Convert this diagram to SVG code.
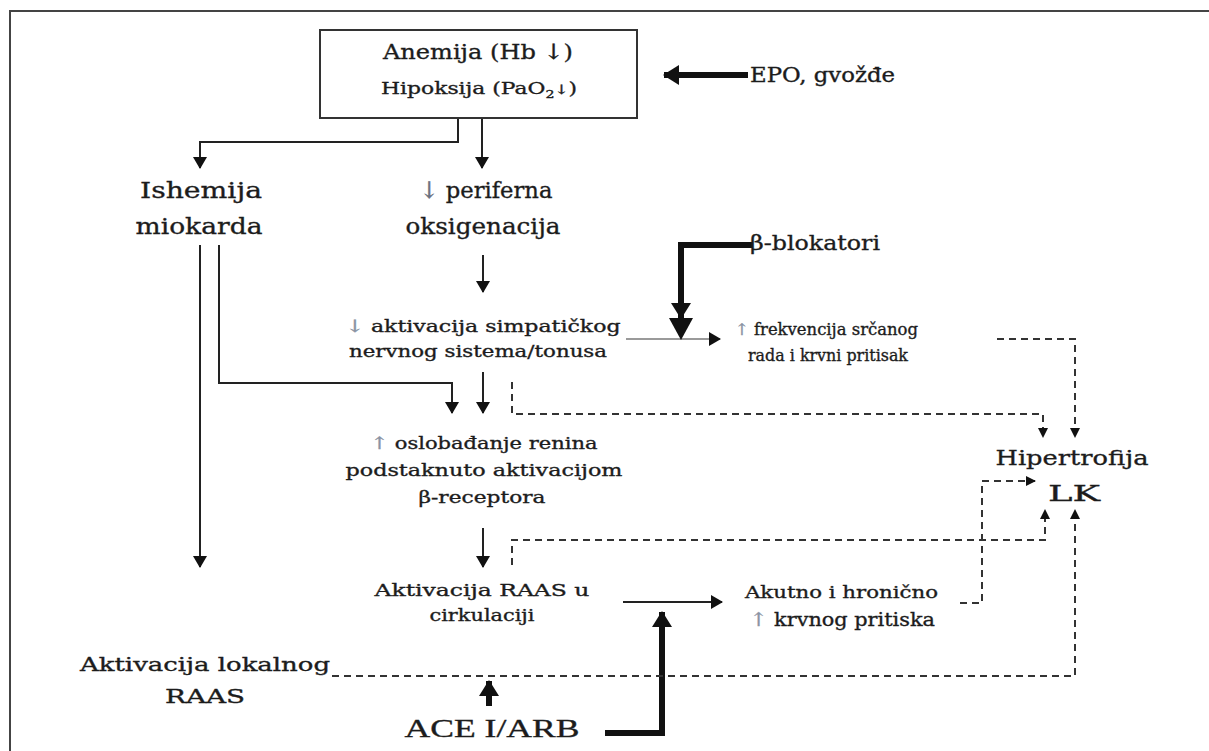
<svg xmlns="http://www.w3.org/2000/svg" width="1209" height="751" viewBox="0 0 1209 751">
  <style>
    text { font-family: "DejaVu Serif", "Liberation Serif", serif; fill: #1c1c1c; stroke: #1c1c1c; stroke-width: 0.35; }
    .c { text-anchor: middle; }
    .s { text-anchor: start; }
    .arw { fill: #8a93a3; stroke: #8a93a3; }
    .ln { fill: none; stroke: #222; stroke-width: 2; }
    .thick { fill: none; stroke: #111; stroke-width: 6; }
    .dash { fill: none; stroke: #333; stroke-width: 2; stroke-dasharray: 7 5; }
    .gray { fill: none; stroke: #9a9a9a; stroke-width: 2; }
  </style>
  <defs>
    <marker id="head" viewBox="0 0 12 14" refX="11" refY="7" markerWidth="12" markerHeight="14" markerUnits="userSpaceOnUse" orient="auto">
      <path d="M0,0 L12,7 L0,14 Z" fill="#111"/>
    </marker>
    <marker id="headS" viewBox="0 0 10 10" refX="9" refY="5" markerWidth="10" markerHeight="10" markerUnits="userSpaceOnUse" orient="auto">
      <path d="M0,0 L10,5 L0,10 Z" fill="#111"/>
    </marker>
    <marker id="headB" viewBox="0 0 16 20" refX="15" refY="10" markerWidth="16" markerHeight="20" markerUnits="userSpaceOnUse" orient="auto">
      <path d="M0,0 L16,10 L0,20 Z" fill="#111"/>
    </marker>
  </defs>

  <rect width="1209" height="751" fill="#ffffff"/>
  <!-- frame -->
  <path d="M10,751 L10,11 L1209,11" fill="none" stroke="#444" stroke-width="2"/>

  <g id="connectors">
    <path class="thick" d="M748,75 L664,75" marker-end="url(#headB)"/>
    <path class="ln" d="M458,118 L458,142 L200,142 L200,168" marker-end="url(#head)"/>
    <path class="ln" d="M482,118 L482,168" marker-end="url(#head)"/>
    <path class="ln" d="M483,255 L483,292" marker-end="url(#head)"/>
    <path class="ln" d="M200,245 L200,567" marker-end="url(#head)"/>
    <path class="ln" d="M219,245 L219,383 L452,383 L452,413" marker-end="url(#head)"/>
    <path class="ln" d="M483,372 L483,413" marker-end="url(#head)"/>
    <path class="gray" d="M626,339 L720,339" marker-end="url(#head)"/>
    <path class="thick" d="M752,245 L681,245 L681,318" marker-end="url(#headB)"/>
    <path d="M669,318 L693,318 L681,340 Z" fill="#111"/>
    <path class="dash" d="M997,339 L1075,339 L1075,437" marker-end="url(#headS)"/>
    <path class="dash" d="M512,382 L512,414 L1043,414 L1043,437" marker-end="url(#headS)"/>
    <path class="ln" d="M483,528 L483,567" marker-end="url(#head)"/>
    <path class="dash" d="M512,565 L512,540 L1045,540 L1045,510" marker-end="url(#headS)"/>
    <path class="ln" d="M623,602 L722,602" marker-end="url(#head)"/>
    <path class="thick" d="M605,733 L662,733 L662,612" marker-end="url(#headB)"/>
    <path class="dash" d="M960,603 L982,603 L982,481 L1035,481" marker-end="url(#headS)"/>
    <path class="dash" d="M332,676 L1075,676 L1075,510" marker-end="url(#headS)"/>
    <path class="thick" d="M489,706 L489,681" marker-end="url(#headB)"/>
  </g>

  <g id="anemija">
    <rect x="320" y="30" width="317" height="88" fill="#fff" stroke="#333" stroke-width="2"/>
    <text class="c" x="478" y="59" font-size="21" textLength="190" lengthAdjust="spacingAndGlyphs">Anemija (Hb ↓)</text>
    <text class="c" x="479" y="94" font-size="17" textLength="196" lengthAdjust="spacingAndGlyphs">Hipoksija (PaO<tspan font-size="11" dy="4">2</tspan><tspan font-size="13" dy="-4">↓</tspan>)</text>
  </g>

  <g id="epo">
    <text class="s" x="750" y="82" font-size="20" textLength="145" lengthAdjust="spacingAndGlyphs">EPO, gvožđe</text>
  </g>

  <g id="ishemija">
    <text class="c" x="201" y="198" font-size="23" textLength="122" lengthAdjust="spacingAndGlyphs">Ishemija</text>
    <text class="c" x="199" y="234" font-size="23" textLength="127" lengthAdjust="spacingAndGlyphs">miokarda</text>
  </g>

  <g id="periferna">
    <text class="c" x="486" y="198" font-size="23" textLength="133" lengthAdjust="spacingAndGlyphs"><tspan fill="#6a7080" stroke="#6a7080">↓</tspan> periferna</text>
    <text class="c" x="483" y="234" font-size="23" textLength="155" lengthAdjust="spacingAndGlyphs">oksigenacija</text>
  </g>

  <g id="beta-blokatori">
    <text class="s" x="750" y="250" font-size="20" textLength="130" lengthAdjust="spacingAndGlyphs">β-blokatori</text>
  </g>

  <g id="simpaticki">
    <text class="c" x="483" y="332" font-size="17" textLength="275" lengthAdjust="spacingAndGlyphs"><tspan class="arw">↓</tspan> aktivacija simpatičkog</text>
    <text class="c" x="478" y="357" font-size="17" textLength="258" lengthAdjust="spacingAndGlyphs">nervnog sistema/tonusa</text>
  </g>

  <g id="frekvencija">
    <text class="s" x="735" y="335" font-size="16" textLength="183" lengthAdjust="spacingAndGlyphs"><tspan class="arw">↑</tspan> frekvencija srčanog</text>
    <text class="s" x="748" y="361" font-size="16" textLength="160" lengthAdjust="spacingAndGlyphs">rada i krvni pritisak</text>
  </g>

  <g id="renin">
    <text class="c" x="484" y="449" font-size="17" textLength="227" lengthAdjust="spacingAndGlyphs"><tspan class="arw">↑</tspan> oslobađanje renina</text>
    <text class="c" x="484" y="476" font-size="17" textLength="277" lengthAdjust="spacingAndGlyphs">podstaknuto aktivacijom</text>
    <text class="c" x="482" y="503" font-size="17" textLength="127" lengthAdjust="spacingAndGlyphs">β-receptora</text>
  </g>

  <g id="hipertrofija">
    <text class="c" x="1072" y="465" font-size="21" textLength="153" lengthAdjust="spacingAndGlyphs">Hipertrofija</text>
    <text class="c" x="1074" y="501" font-size="23" textLength="52" lengthAdjust="spacingAndGlyphs">LK</text>
  </g>

  <g id="raas-cirkulacija">
    <text class="c" x="482" y="596" font-size="17" textLength="215" lengthAdjust="spacingAndGlyphs">Aktivacija RAAS u</text>
    <text class="c" x="482" y="621" font-size="17" textLength="105" lengthAdjust="spacingAndGlyphs">cirkulaciji</text>
  </g>

  <g id="pritisak">
    <text class="s" x="745" y="598" font-size="17" textLength="193" lengthAdjust="spacingAndGlyphs">Akutno i hronično</text>
    <text class="s" x="750" y="626" font-size="19" textLength="185" lengthAdjust="spacingAndGlyphs"><tspan class="arw">↑</tspan> krvnog pritiska</text>
  </g>

  <g id="lokalni-raas">
    <text class="c" x="205" y="671" font-size="19" textLength="250" lengthAdjust="spacingAndGlyphs">Aktivacija lokalnog</text>
    <text class="c" x="205" y="703" font-size="19" textLength="80" lengthAdjust="spacingAndGlyphs">RAAS</text>
  </g>

  <g id="ace-arb">
    <text class="c" x="492" y="737" font-size="26" textLength="175" lengthAdjust="spacingAndGlyphs" style="font-family:'Liberation Serif', serif">ACE I/ARB</text>
  </g>
</svg>
